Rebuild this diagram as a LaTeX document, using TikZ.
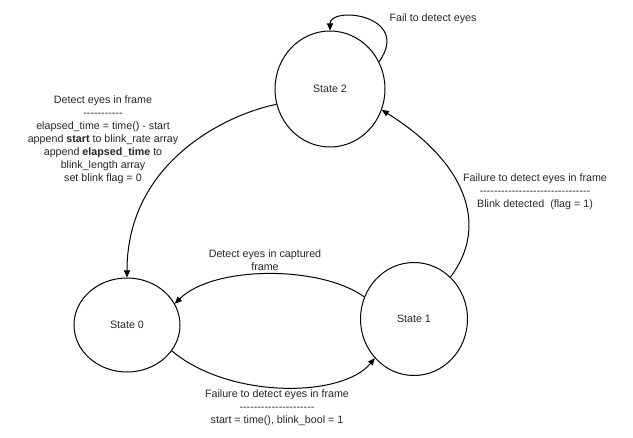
\documentclass[tikz,border=0pt]{standalone}
\usepackage{fontspec}
\setmainfont{Liberation Sans}[Ligatures=TeXOff]
\usetikzlibrary{shapes.geometric,arrows.meta}
\definecolor{txt}{HTML}{262626}
\begin{document}
\begin{tikzpicture}[x=1pt,y=-1pt,
  state/.style={ellipse,draw,line width=1pt,inner sep=0pt,
    font=\fontsize{10.7}{13}\selectfont,text=txt},
  lbl/.style={align=center,font=\fontsize{10.7}{13}\selectfont,text=txt,inner sep=0pt},
  conn/.style={line width=1pt,-{Triangle[length=7pt,width=6pt]}}]
\useasboundingbox (0,0) rectangle (633,438);
\node[state,minimum width=110pt,minimum height=116pt] (s2) at (330,89) {State 2};
\node[state,minimum width=106pt,minimum height=94pt] (s0) at (127,325) {State 0};
\node[state,minimum width=107pt,minimum height=113pt] (s1) at (414,319) {State 1};

\draw[conn] (s2.196) .. controls +(-46,9) and +(0,-118) .. (s0.90);
\draw[conn] (s1.156) .. controls +(-45,-32) and +(38,-38) .. (s0.24);
\draw[conn] (s0.-30) .. controls +(57,48) and +(-33,40) .. (s1.225);
\draw[conn] (s1.49) .. controls +(40,-53) and +(82,51) .. (s2.-22);
\draw[conn] (s2.29) .. controls +(33,-47) and +(0,-25) .. (s2.90);

\node[lbl] (lloop) at (433,19) {Fail to detect eyes};
\node[lbl] (l20) at (103,140) {Detect eyes in frame\\-----------\\elapsed\_time = time() - start\\append \textbf{start} to blink\_rate array\\append \textbf{elapsed\_time} to\\blink\_length array\\set blink flag = 0};
\node[lbl] (l12) at (535,192) {Failure to detect eyes in frame\\-------------------------------\\Blink detected\ \ (flag = 1)};
\node[lbl] (l10) at (265,260) {Detect eyes in captured\\frame};
\node[lbl] (l01) at (277,408) {Failure to detect eyes in frame\\---------------------\\start = time(), blink\_bool = 1};
\end{tikzpicture}
\end{document}
